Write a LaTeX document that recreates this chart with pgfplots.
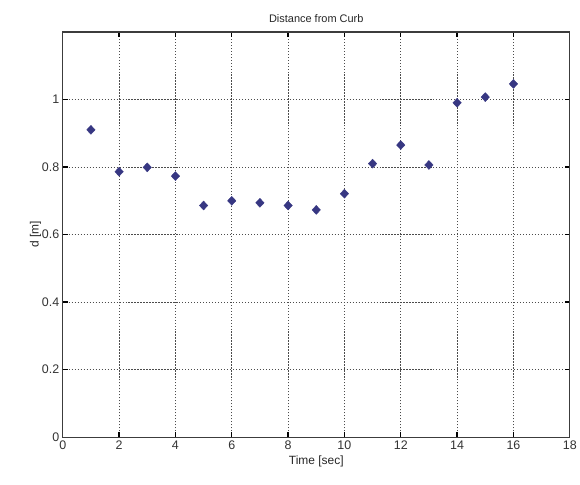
\documentclass[border=0pt]{standalone}
\usepackage{pgfplots}
\pgfplotsset{compat=1.18}
\usepackage{fontspec}
\setmainfont{Liberation Sans}
\definecolor{mk}{RGB}{55,55,130}
\definecolor{ax}{RGB}{60,60,60}
\begin{document}
\begin{tikzpicture}
\begin{axis}[
  scale only axis,
  width=509pt, height=407pt,
  xmin=0, xmax=18, ymin=0, ymax=1.2,
  xtick={0,2,...,18},
  ytick={0,0.2,0.4,0.6,0.8,1},
  yticklabels={0,0.2,0.4,0.6,0.8,1},
  grid=major,
  major grid style={black!70, dash pattern=on 1.2pt off 1.8pt, line width=1pt},
  axis line style={ax, line width=1.3pt},
  tick style={black, line width=1.3pt},
  tick align=inside,
  major tick length=5pt,
  xtick pos=both, ytick pos=both,
  ticklabel style={font=\fontsize{12.5}{14}\selectfont, text=black!80},
  label style={font=\fontsize{12}{14}\selectfont, text=black!85},
  title style={font=\fontsize{11}{13}\selectfont, text=black!85},
  title={Distance from Curb},
  xlabel={Time [sec]},
  ylabel={d [m]},
  xlabel style={yshift=1pt},
  ylabel style={yshift=-6pt},
  /pgf/number format/assume math mode=true,
]
\addplot[only marks, mark=diamond*, mark size=4.5pt, color=mk, mark options={fill=mk, xscale=1.25}] coordinates {
(1,0.910) (2,0.786) (3,0.799) (4,0.773) (5,0.686) (6,0.700) (7,0.694) (8,0.686)
(9,0.673) (10,0.721) (11,0.810) (12,0.865) (13,0.806) (14,0.990) (15,1.007) (16,1.046)
};
\end{axis}
\path (-63pt,-47pt) rectangle (517pt,439pt);
\end{tikzpicture}
\end{document}
